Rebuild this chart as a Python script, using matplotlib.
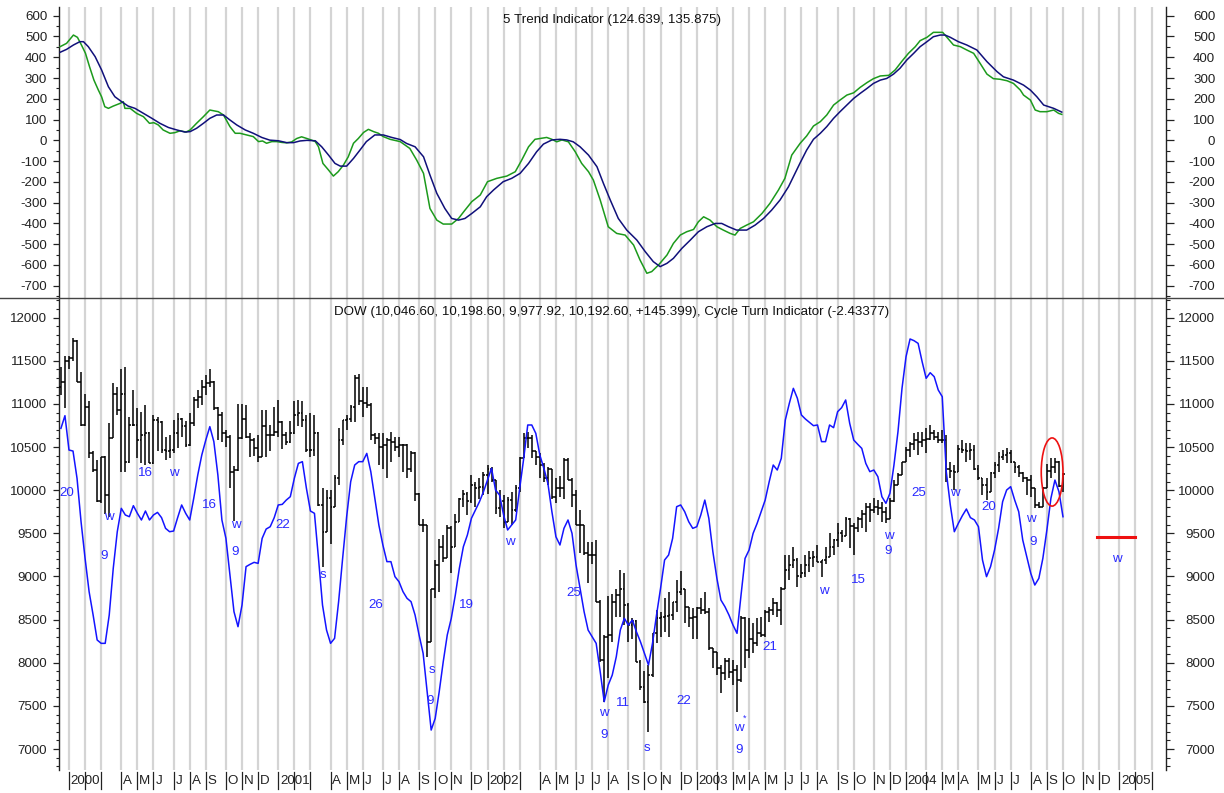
import matplotlib
matplotlib.use("Agg")
import matplotlib.pyplot as plt
from matplotlib.patches import Ellipse
from matplotlib.lines import Line2D
from matplotlib.ticker import MultipleLocator
import numpy as np
import pandas as pd

plt.rcParams['font.family'] = ['Liberation Sans', 'DejaVu Sans']
plt.rcParams['axes.unicode_minus'] = False

# ---------------- data ----------------
first_week = "1999-12-24"   # weekly bars (Fridays)

opens = [11200,11260,11500,11530,11730,11260,10760,10970,10430,10230,9870,10390,9940,10600,11120,10930,11120,10330,10760,10760,
         10580,10640,10660,10310,10810,10795,10470,10450,10470,10660,10830,10740,10520,10775,11050,11080,11200,11240,11260,10950,
         10870,10660,10620,10215,10230,10600,10830,10620,10580,10485,10390,10740,10640,10640,10680,10795,10640,10560,10660,10870,
         10890,10810,10470,10470,10660,9830,9520,9910,9810,10140,10580,10810,10830,10970,11300,11030,11010,10990,10640,10600,
         10505,10520,10580,10560,10500,10520,10520,10250,10430,9960,9600,9600,8240,8860,9130,9345,9210,9560,9345,9635,
         9900,9960,9870,10060,10020,10040,10180,10250,10120,9790,9870,9635,9890,9770,10020,10370,10600,10600,10450,10390,
         10290,10140,10250,9925,10020,10020,10350,10120,9940,9600,9600,9270,9250,9250,8710,8030,8300,8320,8710,8785,
         8860,8670,8440,8480,8010,7720,7550,7860,8340,8515,8530,8540,8550,8710,8820,8860,8650,8515,8530,8630,
         8610,8590,8170,8130,7935,7880,8020,7890,7920,7800,8520,8150,8280,8225,8340,8320,8590,8610,8690,8610,
         8860,9075,9130,9190,9000,9040,9130,9210,9230,9170,9190,9230,9345,9420,9500,9470,9670,9580,9560,9670,
         9730,9810,9770,9810,9790,9750,9670,9870,10060,10180,10330,10470,10540,10580,10560,10580,10590,10660,10620,10580,
         10580,10250,10220,10210,10480,10470,10450,10470,10250,10140,10060,9980,10200,10290,10390,10410,10430,10330,10270,10200,
         10140,10120,10020,9830,9810,10020,10220,10270,10330,10047]
highs = [11430,11550,11560,11760,11740,11370,11120,11030,10450,10350,10390,10400,10780,11240,11200,11410,11430,10850,11160,10950,
         10910,10990,10680,10870,10850,10800,10620,10640,10810,10890,10840,10800,10890,11080,11160,11280,11340,11410,11270,10970,
         10910,10700,10640,10280,11000,11000,10990,10660,10600,10640,10930,10930,10760,10970,11050,10800,10680,10800,11030,11050,
         11030,10870,10890,10870,10670,10020,10000,10000,10180,10720,10810,10870,10990,11340,11350,11200,11200,11010,10660,10660,
         10660,10600,10680,10620,10620,10540,10530,10450,10440,9970,9670,9600,8860,9190,9440,9480,9600,9580,9730,9910,
         10000,9980,10180,10100,10140,10215,10290,10270,10120,10000,9940,9925,9980,10060,10390,10660,10680,10640,10450,10430,
         10310,10270,10250,10140,10160,10370,10370,10140,10000,9770,9600,9400,9400,9420,8730,8320,8770,8800,8860,9075,
         9040,8690,8515,8495,8030,7900,7970,8340,8610,8590,8750,8820,8710,8960,9060,8860,8650,8630,8650,8750,
         8820,8630,8170,8130,7975,8050,8050,8030,7975,8540,8530,8515,8460,8515,8534,8610,8650,8747,8708,8880,
         9250,9250,9345,9210,9150,9250,9290,9290,9365,9190,9345,9500,9440,9616,9540,9693,9674,9616,9693,9771,
         9848,9848,9906,9886,9867,9809,9906,10118,10196,10331,10505,10563,10659,10679,10679,10717,10756,10698,10679,10698,
         10640,10331,10292,10524,10582,10543,10543,10524,10292,10140,10138,10215,10331,10447,10470,10485,10466,10331,10292,10215,
         10157,10176,10020,9867,10041,10300,10369,10369,10340,10199]
lows = [11100,10950,11400,11500,11250,10750,10740,10370,10210,9860,9850,9730,9690,10600,10870,10210,10210,10320,10740,10370,
        10310,10290,10310,10300,10450,10430,10350,10370,10430,10490,10620,10500,10510,10750,10950,10990,11100,11200,10930,10580,
        10560,10500,10020,9640,10220,10590,10600,10390,10400,10330,10380,10390,10450,10630,10620,10480,10520,10550,10650,10750,
        10730,10440,10390,10400,9820,9110,9510,9380,9800,10060,10520,10700,10790,10790,10990,10850,10950,10580,10540,10290,
        10250,10140,10330,10450,10390,10210,10140,10210,9870,9600,9520,8070,8240,8750,8820,9170,9210,9040,9340,9635,
        9810,9710,9850,9810,9900,9940,9960,10100,9730,9690,9560,9630,9600,9750,9980,10370,10485,10370,10290,10140,
        10100,10060,9900,9850,9925,9900,10120,9810,9600,9270,9250,8920,9150,8710,8010,7550,7820,8240,8530,8530,
        8440,8240,8280,8010,7680,7530,7200,7840,8225,8300,8360,8300,8495,8590,8785,8460,8420,8280,8280,8570,
        8570,8150,7935,7860,7645,7800,7820,7740,7430,7780,7935,8050,8110,8200,8300,8300,8476,8553,8534,8437,
        8860,8960,9094,8880,8978,8998,9056,9114,9170,8998,9150,9230,9250,9345,9403,9470,9326,9249,9519,9558,
        9519,9635,9732,9713,9635,9616,9670,9867,10060,10176,10330,10389,10466,10408,10505,10427,10582,10582,10543,10543,
        10099,10138,10002,10210,10427,10331,10350,10234,10118,9944,9886,9980,10138,10215,10350,10311,10311,10196,10157,10099,
        9944,9925,9790,9790,9810,10020,10138,10196,10041,9978]
closes = [11260,11500,11530,11730,11260,10760,10970,10430,10230,9870,10390,9940,10600,11120,10930,11120,10330,10760,10760,10580,
          10640,10660,10310,10810,10795,10470,10450,10470,10660,10830,10740,10520,10775,11050,11080,11200,11240,11260,10950,10870,
          10660,10620,10215,10230,10600,10830,10620,10580,10485,10390,10740,10640,10640,10680,10795,10640,10560,10660,10870,10890,
          10810,10470,10470,10660,9830,9520,9910,9810,10140,10580,10810,10830,10970,11300,11030,11010,10990,10640,10600,10505,
          10520,10580,10560,10500,10520,10520,10250,10430,9960,9600,9600,8240,8860,9130,9345,9210,9560,9345,9635,9900,
          9960,9870,10060,10020,10040,10180,10250,10120,9790,9870,9635,9890,9770,10020,10370,10600,10600,10450,10390,10290,
          10140,10250,9925,10020,10020,10350,10120,9940,9600,9600,9270,9250,9250,8710,8030,8300,8320,8710,8785,8860,
          8670,8440,8480,8010,7720,7550,7860,8340,8515,8530,8540,8550,8710,8820,8860,8650,8515,8530,8630,8610,
          8590,8170,8130,7935,7880,8020,7890,7920,7800,8520,8150,8280,8225,8340,8320,8590,8610,8690,8610,8860,
          9075,9130,9190,9000,9040,9130,9210,9230,9170,9190,9230,9345,9420,9500,9470,9670,9580,9560,9670,9730,
          9810,9770,9810,9790,9750,9670,9870,10060,10180,10330,10470,10540,10580,10560,10580,10590,10660,10620,10580,10580,
          10250,10220,10210,10480,10470,10450,10470,10250,10140,10060,9980,10200,10290,10390,10410,10430,10330,10270,10200,10140,
          10120,10020,9830,9810,10020,10220,10270,10330,10050,10193]

cycle_turn = [10717,10864,10466,10454,10138,9635,9210,8824,8553,8264,8225,8225,8553,9094,9519,9790,9713,9693,9821,9732,
              9655,9759,9655,9713,9743,9682,9558,9519,9527,9682,9829,9732,9655,9906,10176,10408,10582,10737,10563,10176,
              9655,9442,9017,8592,8418,8669,9114,9141,9164,9152,9442,9550,9577,9682,9829,9836,9886,9925,10138,10311,
              10331,10022,9759,9732,9210,8669,8379,8225,8283,8708,9210,9693,10099,10292,10331,10331,10427,10215,9906,9597,
              9365,9172,9172,8998,8940,8824,
              8747,8708,8553,8322,8109,7665,7220,7355,7665,8012,8322,8515,8785,9094,9345,9481,9674,9771,9867,9983,
              10118,10254,10002,9944,9713,9539,9597,9655,10022,10369,10756,10756,10659,10408,10254,10080,9751,9461,9365,9558,
              9655,9500,9133,8862,8592,8379,8302,8225,7897,7549,7742,7858,8070,8379,8515,8437,8495,8360,8244,8109,
              7974,8225,8553,8862,9191,9249,9442,9809,9829,9751,9635,9558,9577,9713,9886,9674,9288,8978,8727,8650,
              8553,8437,8341,8785,9210,
              9307,9500,9616,9751,9886,10099,10292,10234,10369,10814,11007,11181,11065,10872,10825,10787,10748,10756,10563,10563,
              10756,10725,10910,10957,11046,10775,10582,10532,10485,10311,10215,10234,10157,9925,9848,9964,10292,10679,11181,11548,
              11753,11733,11702,11490,11297,11362,11316,11162,11084,10215,9829,9519,9616,9705,9782,9682,9655,9577,9191,8998,
              9114,9307,9558,9867,10002,10041,9886,9751,9423,9230,9036,8901,8978,9210,9539,9906,10118,9983,9693]

# 5 Trend Indicator: fast (green) and slow (navy) lines, week position / value
trend_fast_wk = [-0.2,1.4,3.1,4.1,5.1,6.1,7.1,8.2,9.3,10.1,10.9,11.8,13.0,14.7,15.5,15.9,17.2,18.8,20.5,22.0,23.1,24.2,25.4,27.1,28.3,
                 29.6,31.1,32.1,33.7,35.4,37.0,39.1,40.4,42.0,43.3,44.5,46.2,47.8,49.1,50.1,51.1,52.4,53.6,54.9,56.1,57.3,58.6,59.8,
                 61.1,62.3,63.2,64.0,65.1,66.5,67.7,68.9,70.2,71.4,72.7,73.9,75.2,76.4,77.7,78.9,80.1,81.8,84.3,86.7,88.4,90.1,91.7,
                 93.4,95.0,97.1,98.8,100.4,102.1,104.2,106.0,108.3,110.8,112.9,114.5,116.2,117.8,119.5,120.7,122.0,123.2,124.5,126.1,
                 127.8,129.4,131.1,132.3,134.0,136.0,138.1,140.2,142.3,143.9,145.6,146.8,148.5,150.6,152.2,153.9,155.5,157.2,158.4,
                 159.7,161.3,163.0,164.6,166.3,167.5,168.8,170.4,172.1,174.2,176.2,178.3,179.9,181.6,183.7,185.3,187.0,188.7,190.3,
                 192.0,193.6,195.3,197.0,198.6,200.3,201.9,203.6,205.7,207.3,208.9,210.6,212.3,213.5,215.2,216.8,219.1,220.6,221.8,
                 223.5,225.1,226.8,228.4,230.1,231.7,233.4,235.1,236.7,238.4,239.2,240.9,242.1,243.3,245.0,246.7,247.9,248.7]
trend_fast = [451,467,507,496,459,419,355,290,242,210,162,154,165,178,186,154,154,130,114,82,85,74,50,34,37,
              46,40,50,82,114,146,138,122,66,34,34,26,18,-6,-3,-14,-6,-6,-10,-12,-8,9,17,
              9,1,-6,-31,-111,-143,-172,-151,-119,-79,-14,9,38,53,42,34,18,5,-6,-39,-95,-159,-328,
              -384,-403,-403,-376,-336,-295,-263,-199,-183,-172,-151,-95,-31,5,10,14,5,-7,2,-7,
              -55,-111,-151,-191,-287,-416,-448,-456,-504,-576,-640,-632,-600,-552,-496,-456,-440,-429,-392,
              -368,-384,-416,-432,-448,-456,-424,-408,-392,-352,-303,-239,-183,-71,-14,21,69,90,122,
              170,194,218,229,255,278,297,310,313,339,379,419,451,480,496,520,520,486,459,
              451,435,419,371,319,297,294,287,274,242,218,194,146,138,138,146,130,125]
trend_slow_wk = [-0.2,1.4,3.1,4.7,5.6,6.8,8.5,10.1,11.8,13.4,15.1,16.7,18.4,20.5,22.6,24.6,26.7,28.8,30.8,32.1,33.7,35.4,37.0,38.7,
                 40.4,42.0,43.7,45.8,47.8,49.9,51.9,54.0,56.1,57.8,59.4,61.1,63.2,64.8,66.5,68.1,69.4,71.0,72.7,74.3,75.9,78.0,80.1,
                 82.2,84.3,85.9,88.0,90.1,91.7,93.4,95.4,97.1,98.8,100.4,102.1,104.2,105.8,107.5,109.9,112.0,114.1,116.2,118.2,119.9,
                 122.0,124.0,125.7,127.3,129.0,131.1,133.2,134.8,136.5,138.5,140.6,143.1,145.2,147.2,148.9,150.6,152.2,154.3,156.4,
                 158.4,160.5,162.6,164.2,165.9,167.9,170.4,172.5,174.6,176.6,178.7,180.8,182.4,183.7,185.3,187.0,188.7,190.3,192.0,
                 193.6,195.3,197.0,198.6,200.3,201.9,203.6,205.2,206.9,208.5,210.2,211.9,213.5,215.2,216.8,218.5,219.7,221.0,223.0,
                 225.1,227.6,230.1,232.6,234.2,236.7,239.2,240.9,242.5,244.2,246.7,248.7]
trend_slow = [424,438,459,475,475,451,403,339,258,210,186,165,154,130,106,82,62,50,40,42,58,82,106,122,
              122,98,74,50,34,14,1,-2,-11,-11,-3,0,-2,-31,-71,-111,-124,-124,-87,-47,-6,26,26,
              14,4,-15,-31,-79,-167,-255,-328,-376,-384,-376,-352,-320,-271,-239,-199,-183,-159,-111,-55,-18,
              2,5,2,-7,-31,-71,-127,-207,-287,-376,-432,-480,-536,-584,-608,-592,-568,-520,-480,
              -440,-416,-400,-400,-416,-432,-432,-408,-376,-336,-287,-223,-159,-108,-47,5,34,66,106,
              138,170,202,226,250,274,290,298,319,347,387,419,451,475,499,507,507,496,475,
              459,435,379,331,306,290,266,242,210,170,154,136]

cycle_labels = [("20", 1.5, 9968), ("9", 10.7, 9237), ("w", 12.0, 9690), ("16", 20.9, 10200),
                ("w", 28.1, 10200), ("16", 36.8, 9829), ("w", 43.5, 9597), ("9", 43.3, 9284),
                ("22", 55.0, 9597), ("s", 65.1, 9017), ("26", 78.3, 8669), ("s", 92.2, 7916),
                ("9", 91.7, 7556), ("19", 100.7, 8669), ("w", 111.6, 9400), ("25", 127.5, 8808),
                ("w", 135.0, 7417), ("9", 135.0, 7162), ("11", 139.7, 7533), ("s", 145.6, 7012),
                ("22", 154.8, 7556), ("w", 168.5, 7243), ("9", 168.5, 6987), ("21", 176.2, 8183),
                ("w", 189.6, 8832), ("15", 198.3, 8959), ("w", 205.8, 9469), ("9", 205.5, 9295),
                ("25", 213.2, 9968), ("w", 222.2, 9968), ("20", 230.6, 9806), ("w", 241.1, 9667),
                ("9", 241.6, 9400), ("w", 262.4, 9203)]

title_top = "5 Trend Indicator (124.639, 135.875)"
title_bottom = ("DOW (10,046.60, 10,198.60, 9,977.92, 10,192.60, +145.399), "
                "Cycle Turn Indicator (-2.43377)")

# ---------------- figure ----------------
W, H = 1224, 793
fig = plt.figure(figsize=(W / 100, H / 100), dpi=100)

def fx(px): return px / W
def fy(py): return 1 - py / H

L, R = 59, 1166
ax1 = fig.add_axes([fx(L), fy(298), fx(R) - fx(L), fy(7) - fy(298)])
ax2 = fig.add_axes([fx(L), fy(770), fx(R) - fx(L), fy(298) - fy(770)])

xmin, xmax = -0.48, 274.6
weeks = pd.date_range(first_week, periods=275, freq="7D")
month_idx = [i for i in range(1, len(weeks)) if weeks[i].month != weeks[i - 1].month]

grid_col = "#d4d4d4"
tick_col = "#222222"
fs = 9.6

def style_axes(ax, ylim, major, minor):
    ax.set_xlim(xmin, xmax)
    ax.set_ylim(*ylim)
    for s in ("top", "bottom"):
        ax.spines[s].set_visible(False)
    for s in ("left", "right"):
        ax.spines[s].set_linewidth(1.0)
        ax.spines[s].set_color("#222222")
    ax.set_xticks([])
    ax.yaxis.set_major_locator(MultipleLocator(major))
    ax.yaxis.set_minor_locator(MultipleLocator(minor))
    ax.tick_params(axis="y", which="major", length=4, width=0.9, pad=4.5,
                   labelsize=fs, labelcolor=tick_col, colors="#222222")
    ax.tick_params(axis="y", which="minor", length=2.3, width=0.8, colors="#222222")
    ax.tick_params(axis="y", labelcolor=tick_col)
    for i in month_idx:
        ax.axvline(i, color=grid_col, lw=1.6, zorder=0)
    axr = ax.twinx()
    axr.set_ylim(*ylim)
    axr.set_xlim(xmin, xmax)
    for s in ("top", "bottom", "left", "right"):
        axr.spines[s].set_visible(False)
    axr.yaxis.set_major_locator(MultipleLocator(major))
    axr.yaxis.set_minor_locator(MultipleLocator(minor))
    axr.tick_params(axis="y", which="major", length=5.5, width=0.9, pad=30,
                    labelsize=fs, labelcolor=tick_col, colors="#222222")
    axr.tick_params(axis="y", which="minor", length=3, width=0.8, colors="#222222")
    return axr

ax1r = style_axes(ax1, (-759, 642), 100, 50)
ax1r.set_yticks(np.arange(-700, 601, 100))
ax1.set_yticks(np.arange(-700, 601, 100))
for t in ax1r.get_yticklabels():
    t.set_horizontalalignment("right")

ax2r = style_axes(ax2, (6757, 12228), 500, 100)
ax2.set_yticks(np.arange(7000, 12001, 500))
ax2r.set_yticks(np.arange(7000, 12001, 500))
for t in ax2r.get_yticklabels():
    t.set_horizontalalignment("right")

# top panel lines
ax1.plot(trend_fast_wk, trend_fast, color="#1c9a1c", lw=1.1, zorder=3)
ax1.plot(trend_slow_wk, trend_slow, color="#10107a", lw=1.1, zorder=4)

# bottom panel: OHLC bars
xb = np.arange(len(closes))
ax2.vlines(xb, lows, highs, color="black", lw=1.1, zorder=3)
ax2.hlines(opens, xb - 0.45, xb, color="black", lw=1.1, zorder=3)
ax2.hlines(closes, xb, xb + 0.45, color="black", lw=1.1, zorder=3)

xc = np.arange(len(cycle_turn))
ax2.plot(xc, cycle_turn, color="#1414ff", lw=1.1, zorder=4)

for txt, wx, val in cycle_labels:
    ax2.text(wx, val, txt, color="#2a2aff", fontsize=fs, ha="center", va="center", zorder=5)
ax2.text(169.8, 7359, "*", color="#2a2aff", fontsize=6.5, ha="center", va="center", zorder=5)

ax2.add_patch(Ellipse((246.3, 10211), width=5.4, height=790, fill=False,
                      edgecolor="#ee1111", lw=1.2, zorder=6))
ax2.plot([257.5, 267.0], [9455, 9455], color="#ee1111", lw=2.2, zorder=6)

# titles
fig.text(fx(612), fy(20), title_top, ha="center", va="center", fontsize=fs, color="#111111")
fig.text(fx(612), fy(312), title_bottom, ha="center", va="center", fontsize=fs, color="#111111")

# divider line
fig.add_artist(Line2D([0, 1], [fy(298), fy(298)], color="#444444", lw=1.0))

# month labels under bottom panel
tr = ax2.get_xaxis_transform()
ax_h = 770 - 298
for i in month_idx:
    d = weeks[i]
    if d.month == 1:
        lab = str(d.year)
    elif d.month == 2:
        lab = ""
    elif d.month == 3 and d.year in (2000, 2001, 2002, 2005):
        lab = ""
    else:
        lab = d.strftime("%b")[0]
    ax2.plot([i, i], [-(772 - 770) / ax_h, -(789 - 770) / ax_h], transform=tr,
             color="#222222", lw=0.9, clip_on=False)
    if lab:
        ax2.text(i + 0.45, -(781 - 770) / ax_h, lab, transform=tr, ha="left", va="center",
                 fontsize=fs, color=tick_col, clip_on=False)

fig.savefig("out.png", dpi=100)
